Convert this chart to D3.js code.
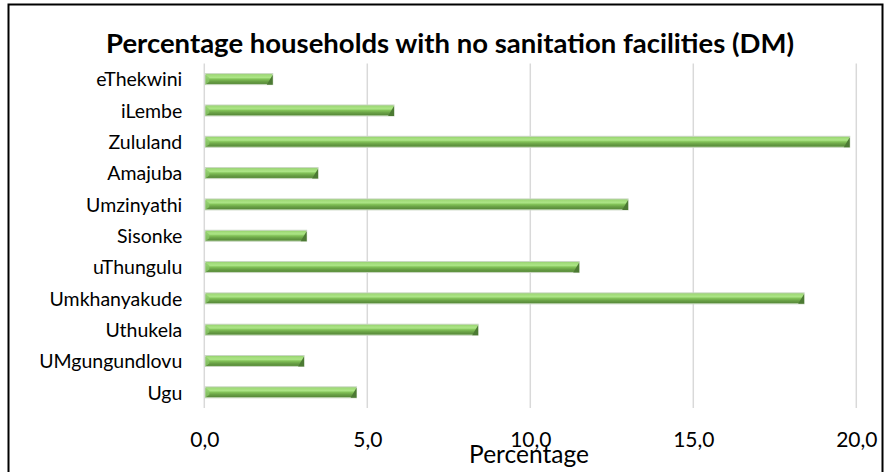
<!DOCTYPE html>
<html><head><meta charset="utf-8">
<script src="https://cdn.jsdelivr.net/npm/d3@7"></script>
<style>
html,body{margin:0;padding:0;background:#fff;}
svg{display:block;}
text{font-family:Lato,"Noto Sans",sans-serif;fill:#000;}
</style></head>
<body>
<svg id="chart" width="884" height="472"></svg>
<script>
const categories = ["eThekwini","iLembe","Zululand","Amajuba","Umzinyathi","Sisonke","uThungulu","Umkhanyakude","Uthukela","UMgungundlovu","Ugu"];
const values = [2.1, 5.82, 19.8, 3.49, 13.0, 3.14, 11.5, 18.4, 8.4, 3.06, 4.67];
const tickValues = [0, 5, 10, 15, 20];
const titleText = "Percentage households with no sanitation facilities (DM)";
const axisTitle = "Percentage";

const svg = d3.select("#chart");

// outer frame
svg.append("rect").attr("x", 8.5).attr("y", 4.5).attr("width", 874).attr("height", 480)
  .attr("fill", "#fff").attr("stroke", "#000").attr("stroke-width", 2);

const x = d3.scaleLinear().domain([0, 20]).range([204.3, 856.3]);
const y = d3.scaleBand().domain(categories).range([63.5, 408]).paddingInner(0.65).paddingOuter(0.325);

// gradient
const defs = svg.append("defs");
const g = defs.append("linearGradient").attr("id", "barGrad").attr("x1", 0).attr("y1", 0).attr("x2", 0).attr("y2", 1);
[[0, "#8ccd63"], [0.15, "#a2dc7a"], [0.35, "#ace586"], [0.5, "#82c258"], [0.7, "#6aa246"], [0.88, "#5b8e3c"], [1, "#76ad56"]]
  .forEach(([o, c]) => g.append("stop").attr("offset", o).attr("stop-color", c));

// gridlines
const grid = svg.append("g");
grid.selectAll("line").data(tickValues).join("line")
  .attr("x1", d => x(d)).attr("x2", d => x(d))
  .attr("y1", 63.5).attr("y2", 408)
  .attr("stroke", "#d9d9d9").attr("stroke-width", 1.5);

// bars
const bars = svg.append("g");
bars.selectAll("rect").data(categories).join("rect")
  .attr("x", x(0) + 1)
  .attr("y", d => y(d))
  .attr("width", (d, i) => x(values[i]) - x(0) - 1)
  .attr("height", y.bandwidth())
  .attr("fill", "url(#barGrad)")
  .attr("stroke", "#c9d6c2").attr("stroke-width", 1);

// right-end bevel
bars.selectAll("path.bevel").data(categories).join("path").attr("class", "bevel")
  .attr("d", (d, i) => {
    const xe = x(values[i]), y0 = y(d), y1 = y(d) + y.bandwidth();
    return `M${xe - 6},${y1} L${xe},${y0 + 1} L${xe},${y1} Z`;
  })
  .attr("fill", "#4c7a33");
// left-end bevel
bars.selectAll("path.lbevel").data(categories).join("path").attr("class", "lbevel")
  .attr("d", (d, i) => {
    const xs = x(0) + 1, y0 = y(d), y1 = y(d) + y.bandwidth();
    return `M${xs},${y0 + 1} L${xs + 4},${y0 + 4} L${xs + 4},${y1 - 3} L${xs},${y1} Z`;
  })
  .attr("fill", "#8cc86a").attr("opacity", 0.8);

// category labels
const yAxis = svg.append("g").attr("transform", `translate(${x(0)},0)`)
  .call(d3.axisLeft(y).tickSize(0).tickPadding(22));
yAxis.select(".domain").remove();
yAxis.selectAll("text").attr("font-size", 19.5).attr("dy", "0.37em")
  .attr("font-family", "Lato,'Noto Sans',sans-serif").attr("fill", "#000");

// x tick labels
const xAxis = svg.append("g").attr("transform", `translate(0,408)`)
  .call(d3.axisBottom(x).tickValues(tickValues).tickSize(0).tickPadding(24)
    .tickFormat(d => d3.format(".1f")(d).replace(".", ",")));
xAxis.select(".domain").remove();
xAxis.selectAll("text").attr("font-size", 21).attr("font-family", "Lato,'Noto Sans',sans-serif").attr("fill", "#000");

// axis title
svg.append("text").attr("x", 529).attr("y", 463).attr("text-anchor", "middle")
  .attr("font-size", 24.5).text(axisTitle);

// chart title
svg.append("text").attr("x", 450).attr("y", 53).attr("text-anchor", "middle")
  .attr("font-size", 27.5).attr("font-weight", "bold").text(titleText);
</script>
</body></html>
